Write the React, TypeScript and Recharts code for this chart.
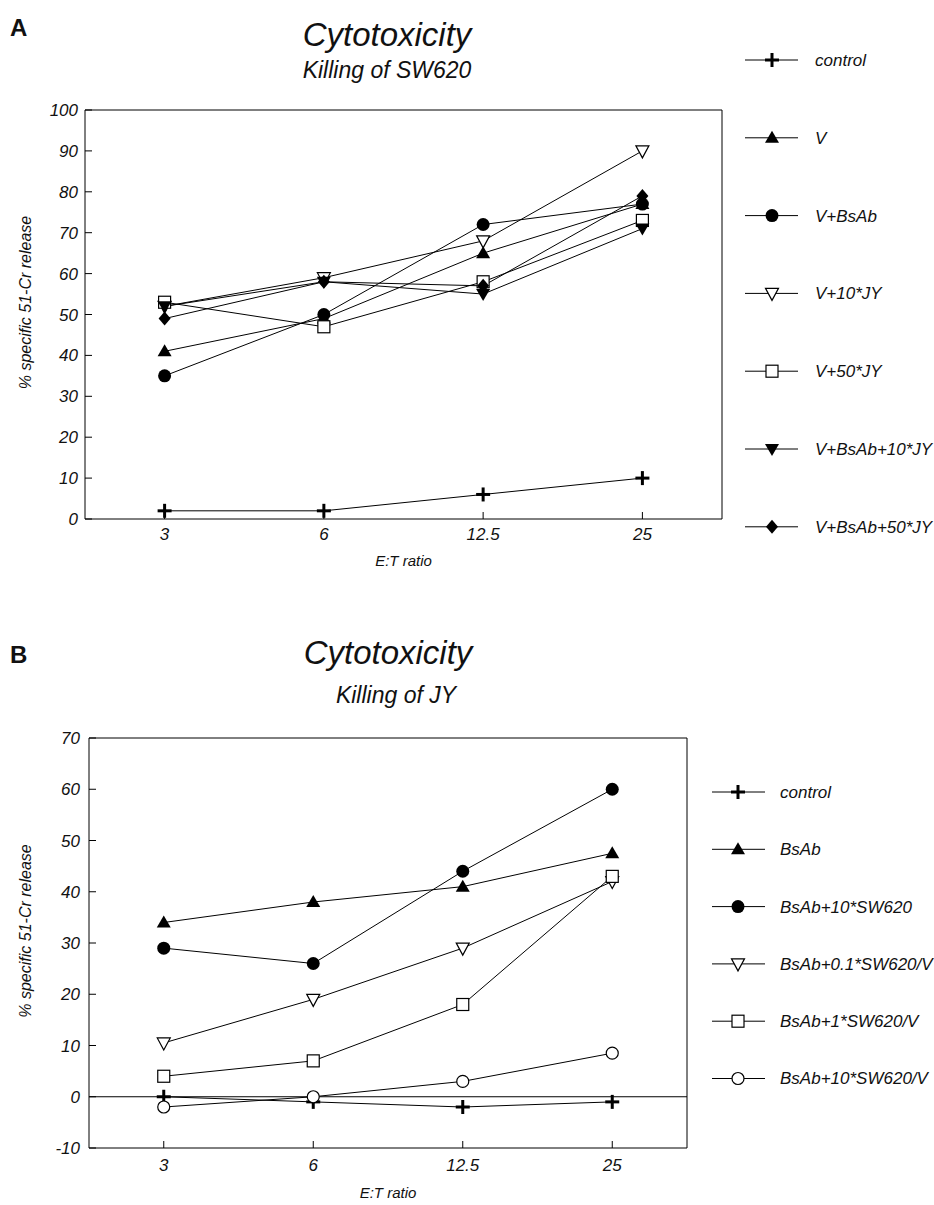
import React from 'react'
import { LineChart, Line, XAxis, YAxis, Legend, ReferenceLine, Label } from 'recharts'

const FONT = '"Liberation Sans", Arial, Helvetica, sans-serif'

const ratios = ['3', '6', '12.5', '25']

// panel A - killing of SW620
const aControl = [2, 2, 6, 10]
const aV = [41, 49, 65, 77]
const aVBsAb = [35, 50, 72, 77]
const aV10JY = [52, 59, 68, 90]
const aV50JY = [53, 47, 58, 73]
const aVBsAb10JY = [52, 58, 55, 71]
const aVBsAb50JY = [49, 58, 57, 79]
const aTicks = [0, 10, 20, 30, 40, 50, 60, 70, 80, 90, 100]

// panel B - killing of JY
const bControl = [0, -1, -2, -1]
const bBsAb = [34, 38, 41, 47.5]
const bBsAb10SW = [29, 26, 44, 60]
const bBsAb01SWV = [10.5, 19, 29, 42]
const bBsAb1SWV = [4, 7, 18, 43]
const bBsAb10SWV = [-2, 0, 3, 8.5]
const bTicks = [-10, 0, 10, 20, 30, 40, 50, 60, 70]

type Shape = 'plus' | 'triUp' | 'circle' | 'triDownOpen' | 'square' | 'triDown' | 'diamond' | 'circleOpen'
type Series = { key: string; name: string; shape: Shape; values: number[] }

const seriesA: Series[] = [
  { key: 'c', name: 'control', shape: 'plus', values: aControl },
  { key: 'v', name: 'V', shape: 'triUp', values: aV },
  { key: 'vb', name: 'V+BsAb', shape: 'circle', values: aVBsAb },
  { key: 'v10', name: 'V+10*JY', shape: 'triDownOpen', values: aV10JY },
  { key: 'v50', name: 'V+50*JY', shape: 'square', values: aV50JY },
  { key: 'vb10', name: 'V+BsAb+10*JY', shape: 'triDown', values: aVBsAb10JY },
  { key: 'vb50', name: 'V+BsAb+50*JY', shape: 'diamond', values: aVBsAb50JY },
]

const seriesB: Series[] = [
  { key: 'c', name: 'control', shape: 'plus', values: bControl },
  { key: 'b', name: 'BsAb', shape: 'triUp', values: bBsAb },
  { key: 'b10', name: 'BsAb+10*SW620', shape: 'circle', values: bBsAb10SW },
  { key: 'b01v', name: 'BsAb+0.1*SW620/V', shape: 'triDownOpen', values: bBsAb01SWV },
  { key: 'b1v', name: 'BsAb+1*SW620/V', shape: 'square', values: bBsAb1SWV },
  { key: 'b10v', name: 'BsAb+10*SW620/V', shape: 'circleOpen', values: bBsAb10SWV },
]

const toRows = (series: Series[]) =>
  ratios.map((r, i) => {
    const row: Record<string, any> = { ratio: r }
    series.forEach(s => { row[s.key] = s.values[i] })
    return row
  })

function Marker({ shape, cx, cy }: { shape: Shape; cx: number; cy: number }) {
  const k = '#000'
  switch (shape) {
    case 'plus':
      return (
        <g>
          <line x1={cx - 7} x2={cx + 7} y1={cy} y2={cy} stroke={k} strokeWidth={3} />
          <line x1={cx} x2={cx} y1={cy - 7} y2={cy + 7} stroke={k} strokeWidth={3} />
        </g>
      )
    case 'triUp':
      return <polygon points={`${cx},${cy - 7} ${cx + 7},${cy + 5} ${cx - 7},${cy + 5}`} fill={k} />
    case 'circle':
      return <circle cx={cx} cy={cy} r={6.5} fill={k} />
    case 'triDownOpen':
      return <polygon points={`${cx - 6.5},${cy - 5} ${cx + 6.5},${cy - 5} ${cx},${cy + 7}`} fill="#fff" stroke={k} strokeWidth={1.2} />
    case 'triDown':
      return <polygon points={`${cx - 7},${cy - 5} ${cx + 7},${cy - 5} ${cx},${cy + 7}`} fill={k} />
    case 'square':
      return <rect x={cx - 6} y={cy - 6} width={12} height={12} fill="#fff" stroke={k} strokeWidth={1.2} />
    case 'diamond':
      return <polygon points={`${cx},${cy - 7} ${cx + 6},${cy} ${cx},${cy + 7} ${cx - 6},${cy}`} fill={k} />
    case 'circleOpen':
      return <circle cx={cx} cy={cy} r={6} fill="#fff" stroke={k} strokeWidth={1.2} />
  }
  return null
}

const makeLegend = (series: Series[], firstY: number, step: number, x0: number, x1: number, xm: number, xt: number, w: number, h: number) =>
  (props: any) => {
    const payload: any[] = props.payload || []
    return (
      <svg width={w} height={h}>
        {payload.map((entry, i) => {
          const s = series.find(q => q.name === entry.value) || series[i]
          const y = firstY + series.indexOf(s) * step
          return (
            <g key={s.key}>
              <line x1={x0} x2={x1} y1={y} y2={y} stroke="#000" strokeWidth={1} />
              <Marker shape={s.shape} cx={xm} cy={y} />
              <text x={xt} y={y} dy="0.35em" fontSize={17} fontStyle="italic" fontFamily={FONT} fill="#111">{s.name}</text>
            </g>
          )
        })}
      </svg>
    )
  }

const yLabel = (shift: number) => (props: any) => {
  const vb = props.viewBox
  const cy = vb.y + vb.height / 2 + shift
  return (
    <text x={25} y={cy} transform={`rotate(-90, 25, ${cy})`} textAnchor="middle" dominantBaseline="central"
      fontSize={16} fontStyle="italic" fontFamily={FONT} fill="#111">
      % specific 51-Cr release
    </text>
  )
}

const tickStyle = { fontSize: 17, fontStyle: 'italic', fill: '#111', fontFamily: FONT }

function Panel({ series, ticks, width, height, margin, pad, legend, tickMarginX, tickMarginY, xLabelOffset, zeroLine }: any) {
  const data = toRows(series)
  const lo = ticks[0]
  const hi = ticks[ticks.length - 1]
  return (
    <LineChart width={width} height={height} data={data} margin={margin}>
      <XAxis dataKey="ratio" height={30} padding={{ left: pad, right: pad }} tickSize={-7} tickMargin={tickMarginX} tick={tickStyle}
        axisLine={{ stroke: '#000' }} tickLine={{ stroke: '#000' }}>
        <Label value="E:T ratio" position="bottom" offset={xLabelOffset} fontSize={15} fontStyle="italic" fontFamily={FONT} fill="#111" />
      </XAxis>
      {/* top and right axes only close the frame */}
      <XAxis xAxisId="top" orientation="top" dataKey="ratio" height={1} tick={false} tickLine={false}
        axisLine={{ stroke: '#000' }} />
      <YAxis width={60} domain={[lo, hi]} ticks={ticks} interval={0} tickSize={-7} tickMargin={tickMarginY}
        tick={tickStyle} axisLine={{ stroke: '#000' }} tickLine={{ stroke: '#000' }}>
        <Label content={yLabel(-12)} />
      </YAxis>
      <YAxis yAxisId="right" orientation="right" width={1} domain={[lo, hi]} tick={false} tickLine={false}
        axisLine={{ stroke: '#000' }} />
      {zeroLine && <ReferenceLine y={0} stroke="#000" strokeWidth={1.2} />}
      <Legend layout="vertical" align="center" verticalAlign="middle" content={legend.content}
        wrapperStyle={legend.style} />
      {series.map((s: Series) => (
        <Line key={s.key} dataKey={s.key} name={s.name} stroke="#000" strokeWidth={1} isAnimationActive={false}
          dot={(p: any) => <Marker key={`${s.key}-${p.index}`} shape={s.shape} cx={p.cx} cy={p.cy} />}
          activeDot={false} />
      ))}
    </LineChart>
  )
}

export default function App() {
  return (
    <div style={{ position: 'absolute', left: 0, top: 0, width: 934, height: 1205, background: '#fff', fontFamily: FONT, color: '#111' }}>
      <div style={{ position: 'absolute', left: 0, top: 0 }}>
        <Panel series={seriesA} ticks={aTicks} width={934} height={600}
          margin={{ top: 109, right: 211, bottom: 51, left: 25 }} pad={79.6}
          tickMarginX={16} tickMarginY={14} xLabelOffset={6}
          legend={{
            content: makeLegend(seriesA, 60, 77.8, 5, 58, 32, 75, 194, 600),
            style: { left: 740, top: 0, width: 194, height: 600 },
          }} />
      </div>
      <div style={{ position: 'absolute', left: 0, top: 610 }}>
        <Panel series={seriesB} ticks={bTicks} width={934} height={595}
          margin={{ top: 127, right: 246, bottom: 27, left: 29 }} pad={74.75}
          tickMarginX={18} tickMarginY={16} xLabelOffset={9} zeroLine
          legend={{
            content: makeLegend(seriesB, 182, 57.3, 7, 60, 33, 75, 229, 595),
            style: { left: 705, top: 0, width: 229, height: 595 },
          }} />
      </div>
      <div style={{ position: 'absolute', left: 10, top: 14, fontSize: 24, fontWeight: 'bold', lineHeight: '28px' }}>A</div>
      <div style={{ position: 'absolute', left: 237, width: 300, top: 17, textAlign: 'center', fontSize: 33, fontStyle: 'italic', lineHeight: '36px' }}>Cytotoxicity</div>
      <div style={{ position: 'absolute', left: 237, width: 300, top: 57, textAlign: 'center', fontSize: 23, fontStyle: 'italic', lineHeight: '26px' }}>Killing of SW620</div>
      <div style={{ position: 'absolute', left: 10, top: 641, fontSize: 24, fontWeight: 'bold', lineHeight: '28px' }}>B</div>
      <div style={{ position: 'absolute', left: 238, width: 300, top: 635, textAlign: 'center', fontSize: 33, fontStyle: 'italic', lineHeight: '36px' }}>Cytotoxicity</div>
      <div style={{ position: 'absolute', left: 246, width: 300, top: 682, textAlign: 'center', fontSize: 23, fontStyle: 'italic', lineHeight: '26px' }}>Killing of JY</div>
    </div>
  )
}
